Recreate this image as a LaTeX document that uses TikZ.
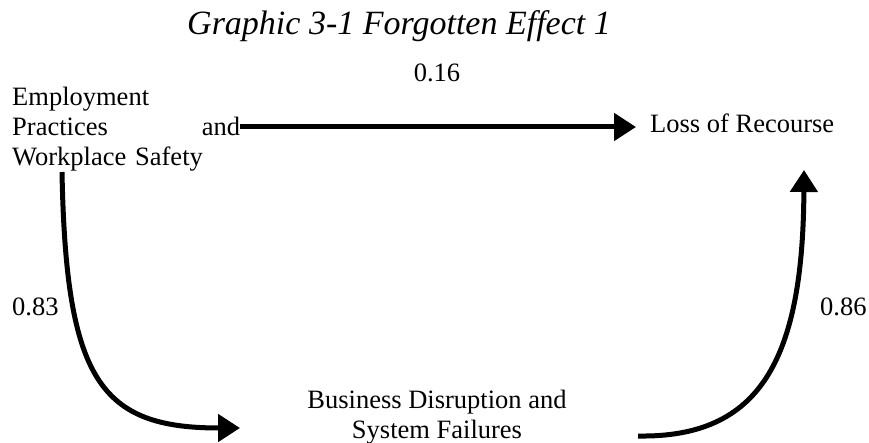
\documentclass[tikz,border=0pt]{standalone}
\usepackage{fontspec}
\setmainfont{Liberation Serif}
\usetikzlibrary{arrows.meta}
\begin{document}
\begin{tikzpicture}[x=1pt,y=-1pt,
  lbl/.style={inner sep=0pt, font=\fontsize{26.5}{30}\selectfont},
  thickarrow/.style={line width=5pt, -{Triangle[length=22pt,width=27pt]}}]
\useasboundingbox (0,0) rectangle (869,443);
\node[anchor=base west, inner sep=0pt, font=\fontsize{34}{40}\selectfont\itshape] (title) at (187,35) {Graphic 3-1 Forgotten Effect 1};
\node[lbl, anchor=base] (w16) at (437,82) {0.16};
\node[lbl, anchor=base west] (w83) at (12,315) {0.83};
\node[lbl, anchor=base west] (w86) at (820,315) {0.86};
\node[lbl, anchor=north west, text width=228pt, align=left] (emp) at (12,87)
  {Employment\\Practices\hskip 0pt plus 1fill and\\Workplace Safety};
\node[lbl, anchor=base west] (loss) at (650,133) {Loss of Recourse};
\node[lbl, anchor=north, align=center] (bd) at (437,390) {Business Disruption and\\System Failures};
\coordinate (e1) at (240,127);
\coordinate (l1) at (636,127);
\coordinate (e2) at (62,172);
\coordinate (b1) at (240,428);
\coordinate (b2) at (638,436);
\coordinate (l2) at (804,170);
\draw[thickarrow] (e1) -- (l1);
\draw[thickarrow] (e2) .. controls (66,380) and (100,428) .. (b1);
\draw[thickarrow] (b2) .. controls (760,438) and (803,360) .. (l2);
\end{tikzpicture}
\end{document}
